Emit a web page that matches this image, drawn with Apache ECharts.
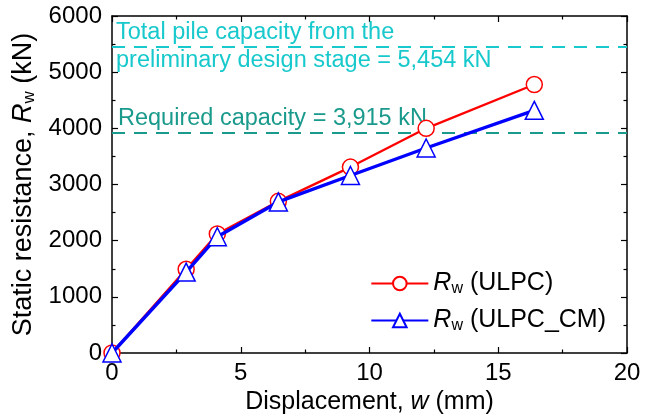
<!DOCTYPE html>
<html>
<head>
<meta charset="utf-8">
<script src="https://cdn.jsdelivr.net/npm/echarts@6/dist/echarts.min.js"></script>
<style>html,body{margin:0;padding:0;background:#fff}#c{width:653px;height:420px}</style>
</head>
<body>
<div id="c"></div>
<script>
const dispULPC = [0, 2.88, 4.09, 6.46, 9.26, 12.2, 16.4];
const rULPC = [0, 1490, 2120, 2700, 3310, 4000, 4780];
const dispCM = [0, 2.88, 4.09, 6.46, 9.26, 12.2, 16.4];
const rCM = [0, 1440, 2070, 2690, 3160, 3650, 4320];
const pileCapacity = 5454;
const requiredCapacity = 3915;
const xTicks = [0, 5, 10, 15, 20];
const yTicks = [0, 1000, 2000, 3000, 4000, 5000, 6000];

const FONT = 'Liberation Sans, Arial, sans-serif';
const cyan = '#17c9cc';
const teal = '#1a9a8c';

const chart = echarts.init(document.getElementById('c'), null, {renderer: 'canvas'});

const baseX = {
  type: 'value', min: xTicks[0], max: xTicks[xTicks.length - 1], interval: 5,
  axisLine: {show: true, onZero: false, lineStyle: {color: '#000', width: 1.5}},
  axisTick: {show: true, inside: true, length: 6, lineStyle: {color: '#000', width: 1.2}},
  minorTick: {show: true, splitNumber: 2, length: 3.5, lineStyle: {color: '#000', width: 1.2}},
  splitLine: {show: false}
};
const baseY = {
  type: 'value', min: yTicks[0], max: yTicks[yTicks.length - 1], interval: 1000,
  axisLine: {show: true, onZero: false, lineStyle: {color: '#000', width: 1.5}},
  axisTick: {show: true, inside: true, length: 6, lineStyle: {color: '#000', width: 1.2}},
  minorTick: {show: true, splitNumber: 2, length: 3.5, lineStyle: {color: '#000', width: 1.2}},
  splitLine: {show: false}
};

function mkRich(big, small, pad) {
  return {
    i: {fontFamily: FONT, fontSize: big, fontStyle: 'italic', color: '#000'},
    s: {fontFamily: FONT, fontSize: small, color: '#000', padding: [pad, 0, 0, 0]},
    n: {fontFamily: FONT, fontSize: big, color: '#000'}
  };
}

function series(name, xs, ys, color, symbol, size, width) {
  return {
    name: name, type: 'line', clip: false,
    data: xs.map((x, i) => [x, ys[i]]),
    symbol: symbol, symbolSize: size,
    lineStyle: {color: color, width: width},
    itemStyle: {color: '#fff', borderColor: color, borderWidth: 1.5},
    color: color,
    z: 3
  };
}

const s1 = series('ULPC', dispULPC, rULPC, '#ff0000', 'circle', 16, 2.3);
const s2 = series('ULPC_CM', dispCM, rCM, '#0000ff', 'triangle', 18, 3.4);
s2.z = 4;
const annot = {color: cyan, fontSize: 23.5, fontFamily: FONT};
s1.markLine = {
  silent: true, symbol: 'none', z: 1,
  data: [
    {yAxis: pileCapacity, lineStyle: {color: cyan, type: [13, 9], width: 2},
     label: Object.assign({formatter: 'Total pile capacity from the', position: 'insideStartTop', distance: [4, 2]}, annot)},
    {yAxis: pileCapacity, lineStyle: {color: cyan, type: [13, 9], width: 2},
     label: Object.assign({formatter: 'preliminary design stage = 5,454 kN', position: 'insideStartBottom', distance: [4, 2]}, annot)},
    {yAxis: requiredCapacity, lineStyle: {color: teal, type: [13, 9], width: 2},
     label: Object.assign({formatter: 'Required capacity = 3,915 kN', position: 'insideStartTop', distance: [6, 3]}, annot, {color: teal})}
  ]
};

chart.setOption({
  animation: false,
  backgroundColor: '#fff',
  grid: {left: 112, right: 26, top: 16, bottom: 64, containLabel: false},
  xAxis: [
    Object.assign({}, baseX, {
      position: 'bottom',
      name: '{n|Displacement, }{i|w}{n| (mm)}', nameLocation: 'middle', nameGap: 37,
      nameTextStyle: {rich: mkRich(25, 16, 11)},
      axisLabel: {fontFamily: FONT, fontSize: 24, color: '#000', margin: 8}
    }),
    Object.assign({}, baseX, {position: 'top', axisLabel: {show: false}})
  ],
  yAxis: [
    Object.assign({}, baseY, {
      position: 'left',
      name: '{n|Static resistance, }{i|R}{s|w}{n| (kN)}', nameLocation: 'middle', nameGap: 66,
      nameTextStyle: {rich: mkRich(27, 17, 12)},
      axisLabel: {fontFamily: FONT, fontSize: 24, color: '#000', margin: 10, formatter: v => String(v)}
    }),
    Object.assign({}, baseY, {position: 'right', axisLabel: {show: false}})
  ],
  legend: {
    right: 42, top: 266, orient: 'vertical', itemGap: 11,
    itemWidth: 57, itemHeight: 17,
    data: ['ULPC', 'ULPC_CM'],
    formatter: function (n) { return '{i|R}{s|w}{n| (' + n + ')}'; },
    textStyle: {rich: mkRich(25, 16, 11)}
  },
  series: [s1, s2]
});
</script>
</body>
</html>
